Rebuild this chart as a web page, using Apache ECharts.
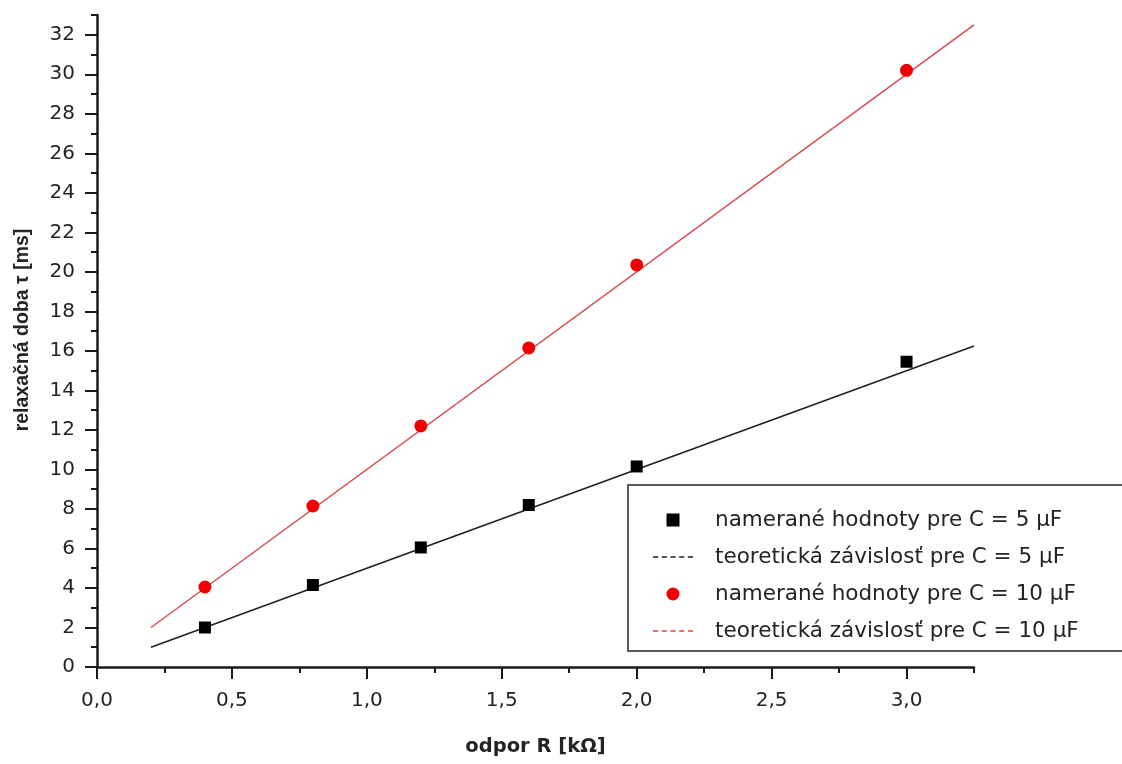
<!DOCTYPE html>
<html><head><meta charset="utf-8">
<script src="https://cdn.jsdelivr.net/npm/echarts@6/dist/echarts.min.js"></script>
<style>html,body{margin:0;padding:0;background:#fff}#c{width:1122px;height:764px}</style>
</head><body><div id="c"></div>
<script>
// measured values
const rMeasured = [0.4, 0.8, 1.2, 1.6, 2.0, 3.0];
const tau5Measured = [2.0, 4.15, 6.05, 8.2, 10.15, 15.45];
const tau10Measured = [4.05, 8.15, 12.2, 16.15, 20.35, 30.2];
// theoretical lines (end points)
const rTheory = [0.2, 3.25];
const tau5Theory = [1.0, 16.25];
const tau10Theory = [2.0, 32.5];
// tick labels
const xTicks = [0, 0.5, 1.0, 1.5, 2.0, 2.5, 3.0];
const yTicks = [0, 2, 4, 6, 8, 10, 12, 14, 16, 18, 20, 22, 24, 26, 28, 30, 32];
const names = [
  'namerané hodnoty pre C = 5 μF',
  'teoretická závislosť pre C = 5 μF',
  'namerané hodnoty pre C = 10 μF',
  'teoretická závislosť pre C = 10 μF'
];
const xName = 'odpor R [kΩ]';
const yName = 'relaxačná doba τ [ms]';

const zip = (a, b) => a.map((v, i) => [v, b[i]]);
const FONT = 'DejaVu Sans';
const AX = '#1a1a1a';
const TXT = '#242424';
const DASH_ICON = 'path://M0,0h5v1.4h-5z M8.5,0h5v1.4h-5z M17,0h5v1.4h-5z M25.5,0h5v1.4h-5z M34,0h5v1.4h-5z';
const SQUARE_ICON = 'path://M0,0h10v10h-10z';

const chart = echarts.init(document.getElementById('c'), null, {renderer: 'canvas'});
const baseX = {type: 'value', min: 0, max: 3.25, position: 'bottom', splitLine: {show: false}};
const baseY = {type: 'value', min: 0, max: 33, position: 'left', splitLine: {show: false}};
chart.setOption({
  animation: false,
  backgroundColor: '#fff',
  grid: {left: 97, right: 148, top: 15, bottom: 97, containLabel: false, outerBoundsMode: 'none'},
  xAxis: [
    Object.assign({}, baseX, {
      interval: 0.25,
      axisLine: {show: true, lineStyle: {color: AX, width: 2.5}},
      axisTick: {show: true, length: 6, lineStyle: {color: AX, width: 2}},
      axisLabel: {show: false}
    }),
    Object.assign({}, baseX, {
      interval: 0.5,
      axisLine: {show: false},
      axisTick: {show: true, length: 12, customValues: xTicks, lineStyle: {color: AX, width: 2}},
      axisLabel: {show: true, customValues: xTicks, margin: 24, color: TXT,
        fontFamily: FONT, fontSize: 20,
        formatter: v => v.toFixed(1).replace('.', ',')},
      name: xName, nameLocation: 'middle', nameGap: 70,
      nameTextStyle: {fontFamily: FONT, fontWeight: 'bold', fontSize: 19.5, color: TXT}
    })
  ],
  yAxis: [
    Object.assign({}, baseY, {
      interval: 1,
      axisLine: {show: true, lineStyle: {color: AX, width: 2.5}},
      axisTick: {show: true, length: 6, lineStyle: {color: AX, width: 2}},
      axisLabel: {show: false}
    }),
    Object.assign({}, baseY, {
      interval: 2,
      axisLine: {show: false},
      axisTick: {show: true, length: 12, customValues: yTicks, lineStyle: {color: AX, width: 2}},
      axisLabel: {show: true, customValues: yTicks, margin: 22, color: TXT,
        fontFamily: FONT, fontSize: 20},
      name: yName, nameLocation: 'middle', nameGap: 64,
      nameTextStyle: {fontFamily: 'Liberation Sans', fontWeight: 'bold', fontSize: 19.5, color: TXT,
        padding: [0, 0, 0, 22]}
    })
  ],
  legend: {
    orient: 'vertical',
    left: 628, top: 485,
    padding: [23, 70, 8, 25],
    itemWidth: 40, itemHeight: 13, itemGap: 13,
    symbolKeepAspect: true,
    borderColor: '#5a5a5a', borderWidth: 2, borderRadius: 0,
    backgroundColor: '#fff',
    selectedMode: false,
    textStyle: {fontFamily: FONT, fontSize: 21.5, color: TXT, lineHeight: 24, padding: [0, 0, 0, 17]},
    data: [
      {name: names[0], icon: SQUARE_ICON, itemStyle: {color: '#000'}},
      {name: names[1], icon: DASH_ICON, itemStyle: {color: '#1e1e1e', borderWidth: 0}},
      {name: names[2], icon: 'circle', itemStyle: {color: '#f00000'}},
      {name: names[3], icon: DASH_ICON, itemStyle: {color: '#d8474a', borderWidth: 0}}
    ]
  },
  series: [
    {name: names[1], type: 'line', data: zip(rTheory, tau5Theory), symbol: 'none', showSymbol: false,
      lineStyle: {color: '#1e1e1e', width: 1.5}, itemStyle: {color: '#1e1e1e'}, z: 2},
    {name: names[3], type: 'line', data: zip(rTheory, tau10Theory), symbol: 'none', showSymbol: false,
      lineStyle: {color: '#d8474a', width: 1.4}, itemStyle: {color: '#d8474a'}, z: 2},
    {name: names[0], type: 'scatter', data: zip(rMeasured, tau5Measured), symbol: 'rect', symbolSize: 12,
      itemStyle: {color: '#000', opacity: 1}, z: 5},
    {name: names[2], type: 'scatter', data: zip(rMeasured, tau10Measured), symbol: 'circle', symbolSize: 13,
      itemStyle: {color: '#f00000', opacity: 1}, z: 5}
  ]
});
</script>
</body></html>
